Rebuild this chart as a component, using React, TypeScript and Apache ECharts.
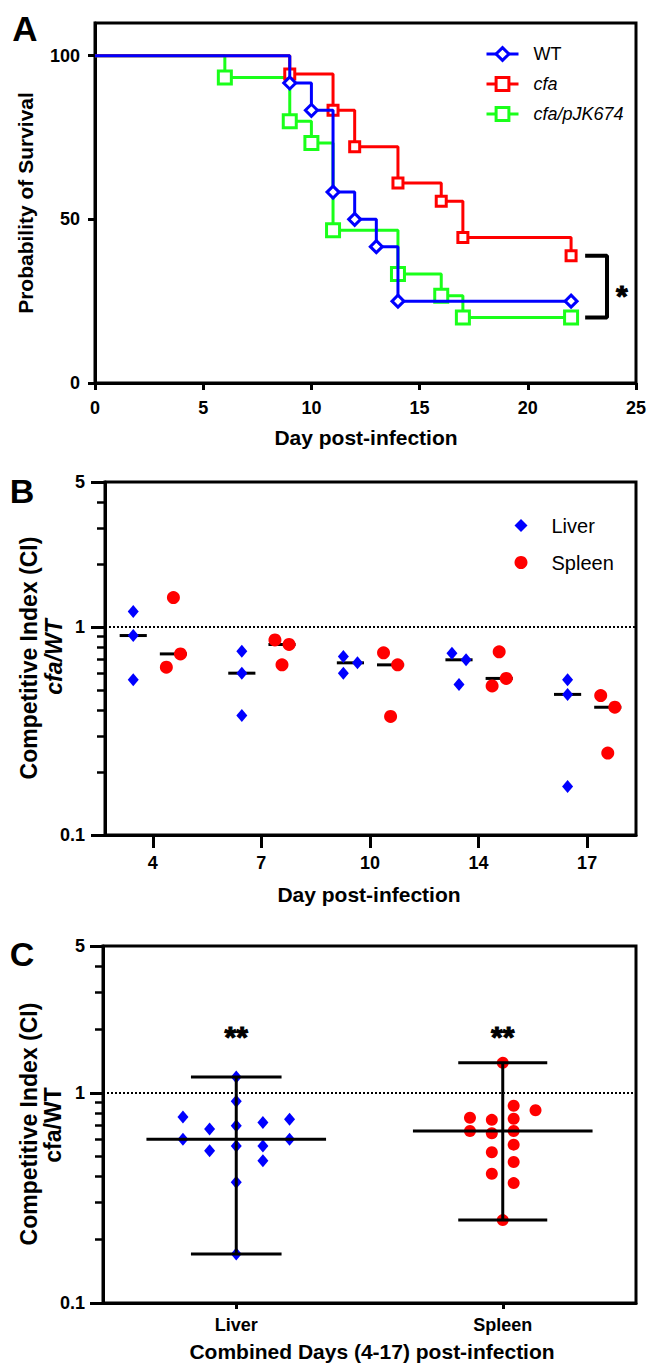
import React, { useEffect, useRef } from 'react';
import * as echarts from 'echarts';

const FONT = '"Liberation Sans", Arial, Helvetica, sans-serif';

// ---------- Panel A: Kaplan-Meier survival ----------
const wtDays = [0, 9, 10, 11, 12, 13, 14, 22];
const wtSurvival = [100, 91.67, 83.33, 58.33, 50, 41.67, 25, 25];
const cfaDays = [0, 9, 11, 12, 14, 16, 17, 22];
const cfaSurvival = [100, 94.44, 83.33, 72.22, 61.11, 55.56, 44.44, 38.89];
const compDays = [0, 6, 9, 10, 11, 14, 16, 17, 22];
const compSurvival = [100, 93.33, 80, 73.33, 46.67, 33.33, 26.67, 20, 20];
const survivalYTicks = [0, 50, 100];

// ---------- Panel B: competitive index by day ----------
const ciDays = ['4', '7', '10', '14', '17'];
const liverCI = [
  [1.19, 0.912, 0.558],
  [0.767, 0.601, 0.376],
  [0.723, 0.674, 0.601],
  [0.75, 0.697, 0.53],
  [0.558, 0.475, 0.171],
];
const spleenCI = [
  [1.39, 0.744, 0.642],
  [0.869, 0.826, 0.659],
  [0.753, 0.659, 0.372],
  [0.761, 0.567, 0.522],
  [0.469, 0.412, 0.248],
];
// scatter column of each point (GraphPad spread)
const liverColB = [[0, 0, 0], [0, 0, 0], [-1, 1, -1], [-1, 1, 0], [0, 0, 0]];
const spleenColB = [[0, 1, -1], [-1, 1, 0], [-1, 1, 0], [0, 1, -1], [-1, 1, 0]];
const ciMajorTicks = [0.1, 1, 5];
const ciMinorTicks = [0.2, 0.3, 0.4, 0.5, 0.6, 0.7, 0.8, 0.9, 2, 3, 4];

// ---------- Panel C: combined days ----------
const organs = ['Liver', 'Spleen'];
const liverColC = [0, 0, 0, -2, -2, 0, 1, -1, 2, 2, 0, -1, 1, 1, 0];
const spleenColC = [0, -1, -1, 1, 3, -3, 1, 1, 1, -3, 1, -1, 1, -1, 0];

const BLUE = '#0000ff';
const RED = '#ff0000';
const GREEN = '#1aff1a';

const median = (a: number[]) => {
  const s = [...a].sort((x, y) => x - y);
  const m = Math.floor(s.length / 2);
  return s.length % 2 ? s[m] : (s[m - 1] + s[m]) / 2;
};

const kmData = (days: number[], vals: number[]) =>
  days.map((d, i) => (i === 0 ? { value: [d, vals[i]], symbol: 'none' } : [d, vals[i]]));

const segSeries = (xi: number, yi: number, segs: number[][], z = 3) => ({
  type: 'custom',
  xAxisIndex: xi,
  yAxisIndex: yi,
  silent: true,
  z,
  data: segs,
  renderItem: (_p: any, api: any) => {
    const a = api.coord([api.value(0), api.value(1)]);
    const b = api.coord([api.value(2), api.value(3)]);
    return {
      type: 'line',
      shape: { x1: a[0], y1: a[1], x2: b[0], y2: b[1] },
      style: { stroke: '#000', lineWidth: 3 },
    };
  },
});

const axisLineStyle = { show: true, lineStyle: { color: '#000', width: 3 } };
const tickLabel = (margin: number, extra: any = {}) => ({
  color: '#000',
  fontSize: 18,
  fontWeight: 'bold',
  fontFamily: FONT,
  margin,
  ...extra,
});

const starLabel = (text: string) => ({
  show: true,
  position: 'inside',
  formatter: text,
  color: '#000',
  fontSize: 30,
  fontWeight: 'bold',
  fontFamily: FONT,
  offset: [0, 7],
  textBorderColor: '#000',
  textBorderWidth: 1,
  opacity: 1,
});

function buildOption() {
  const LIVER_OFF = -0.18;
  const SPLEEN_OFF = 0.19;
  const JIT = 0.065;
  const liverB = liverCI.flatMap((vals, d) => vals.map((v, k) => [d + LIVER_OFF + liverColB[d][k] * JIT, v]));
  const spleenB = spleenCI.flatMap((vals, d) => vals.map((v, k) => [d + SPLEEN_OFF + spleenColB[d][k] * JIT, v]));
  const medSegsB: number[][] = [];
  liverCI.forEach((vals, d) => {
    const m = median(vals);
    medSegsB.push([d + LIVER_OFF - 0.125, m, d + LIVER_OFF + 0.125, m]);
  });
  spleenCI.forEach((vals, d) => {
    const m = median(vals);
    medSegsB.push([d + SPLEEN_OFF - 0.125, m, d + SPLEEN_OFF + 0.125, m]);
  });

  const liverAll = liverCI.flat();
  const spleenAll = spleenCI.flat();
  const liverC = liverAll.map((v, i) => [0 + liverColC[i] * 0.1, v]);
  const spleenC = spleenAll.map((v, i) => [1 + spleenColC[i] * 0.041, v]);
  const rangeSegs = (c: number, vals: number[], capHalf: number) => {
    const m = median(vals);
    const lo = Math.min(...vals);
    const hi = Math.max(...vals);
    return [
      [c, lo, c, hi],
      [c - 0.337, m, c + 0.337, m],
      [c - capHalf, hi, c + capHalf, hi],
      [c - capHalf, lo, c + capHalf, lo],
    ];
  };
  const segsC = [...rangeSegs(0, liverAll, 0.17), ...rangeSegs(1, spleenAll, 0.167)];

  const refLine = {
    silent: true,
    symbol: ['none', 'none'],
    label: { show: false },
    lineStyle: { type: 'dotted', color: '#000', width: 2, opacity: 1 },
    emphasis: { disabled: true },
    data: [{ yAxis: 1 }],
  };

  const gridBase = { show: true, borderColor: '#000', borderWidth: 3, backgroundColor: 'transparent', containLabel: false, outerBoundsMode: 'none' };

  const logAxis = (gridIndex: number, tickLen: number, margin: number) => ({
    type: 'log',
    logBase: 10,
    gridIndex,
    min: 0.1,
    max: 5,
    position: 'left',
    axisLine: { ...axisLineStyle, onZero: false },
    axisTick: { show: true, length: tickLen, lineStyle: { color: '#000', width: 3 }, customValues: ciMajorTicks },
    axisLabel: tickLabel(margin, { customValues: ciMajorTicks, formatter: (v: number) => String(v) }),
    splitLine: { show: false },
    minorTick: { show: false },
  });
  const minorLogAxis = (gridIndex: number) => ({
    type: 'log',
    logBase: 10,
    gridIndex,
    min: 0.1,
    max: 5,
    position: 'left',
    offset: 0,
    axisLine: { show: false, onZero: false },
    axisTick: { show: true, length: 8, lineStyle: { color: '#000', width: 2.5 }, customValues: ciMinorTicks },
    axisLabel: { show: false },
    splitLine: { show: false },
  });

  const textG = (text: string, x: number, y: number, size: number, extra: any = {}) => ({
    type: 'text',
    x,
    y,
    silent: true,
    ...('rotation' in extra ? { rotation: extra.rotation } : {}),
    style: {
      text,
      fill: '#000',
      fontFamily: FONT,
      fontSize: size,
      fontWeight: 'bold',
      fontStyle: extra.fontStyle || 'normal',
      align: 'center',
      verticalAlign: 'middle',
    },
  });
  const R = Math.PI / 2;

  return {
    animation: false,
    backgroundColor: '#fff',
    grid: [
      { ...gridBase, left: 95, top: 23, width: 541, height: 360 },
      { ...gridBase, left: 105, top: 482, width: 531, height: 353 },
      { ...gridBase, left: 103, top: 946, width: 533, height: 357 },
    ],
    xAxis: [
      {
        type: 'value', gridIndex: 0, min: 0, max: 25, interval: 5,
        axisLine: { ...axisLineStyle, onZero: false },
        axisTick: { show: true, length: 7, lineStyle: { color: '#000', width: 3 } },
        axisLabel: tickLabel(16),
        splitLine: { show: false },
      },
      {
        type: 'value', gridIndex: 1, min: -0.44, max: 4.45,
        axisLine: { ...axisLineStyle, onZero: false },
        axisTick: { show: true, length: 13, lineStyle: { color: '#000', width: 3 }, customValues: [0, 1, 2, 3, 4] },
        axisLabel: tickLabel(19, { customValues: [0, 1, 2, 3, 4], formatter: (v: number) => ciDays[Math.round(v)] }),
        splitLine: { show: false },
      },
      {
        type: 'value', gridIndex: 2, min: -0.5, max: 1.5,
        axisLine: { ...axisLineStyle, onZero: false },
        axisTick: { show: true, length: 6, lineStyle: { color: '#000', width: 3 }, customValues: [0, 1] },
        axisLabel: tickLabel(13, { customValues: [0, 1], formatter: (v: number) => organs[Math.round(v)] }),
        splitLine: { show: false },
      },
    ],
    yAxis: [
      {
        type: 'value', gridIndex: 0, min: 0, max: 110,
        axisLine: { ...axisLineStyle, onZero: false },
        axisTick: { show: true, length: 7, lineStyle: { color: '#000', width: 3 }, customValues: survivalYTicks },
        axisLabel: tickLabel(15, { customValues: survivalYTicks }),
        splitLine: { show: false },
      },
      logAxis(1, 14, 20),
      logAxis(2, 13, 18),
      minorLogAxis(1),
      minorLogAxis(2),
    ],
    legend: [
      {
        orient: 'vertical', left: 480, top: 40, itemWidth: 32, itemHeight: 16, itemGap: 12,
        selectedMode: false,
        lineStyle: { width: 3 },
        itemStyle: { borderWidth: 3 },
        data: [
          { name: 'WT' },
          { name: 'cfa', textStyle: { fontStyle: 'italic' } },
          { name: 'cfa/pJK674', textStyle: { fontStyle: 'italic' } },
        ],
        textStyle: { fontSize: 18, fontFamily: FONT, color: '#000', padding: [0, 0, 0, 10] },
      },
      {
        orient: 'vertical', left: 509.5, top: 510.5, itemWidth: 13, itemHeight: 13, itemGap: 17,
        selectedMode: false,
        itemStyle: { opacity: 1 },
        data: ['Liver', 'Spleen'],
        textStyle: { fontSize: 20, fontFamily: FONT, color: '#000', padding: [0, 0, 0, 19] },
      },
    ],
    series: [
      {
        name: 'cfa/pJK674', type: 'line', step: 'end', xAxisIndex: 0, yAxisIndex: 0,
        data: kmData(compDays, compSurvival), symbol: 'rect', symbolSize: 13,
        lineStyle: { color: GREEN, width: 3 },
        itemStyle: { color: '#fff', borderColor: GREEN, borderWidth: 3 },
        color: GREEN, z: 2,
      },
      {
        name: 'cfa', type: 'line', step: 'end', xAxisIndex: 0, yAxisIndex: 0,
        data: kmData(cfaDays, cfaSurvival), symbol: 'rect', symbolSize: 10,
        lineStyle: { color: RED, width: 3 },
        itemStyle: { color: '#fff', borderColor: RED, borderWidth: 3 },
        color: RED, z: 3,
      },
      {
        name: 'WT', type: 'line', step: 'end', xAxisIndex: 0, yAxisIndex: 0,
        data: kmData(wtDays, wtSurvival), symbol: 'diamond', symbolSize: 12,
        lineStyle: { color: BLUE, width: 3 },
        itemStyle: { color: '#fff', borderColor: BLUE, borderWidth: 3 },
        color: BLUE, z: 4,
      },
      {
        name: 'bracket', type: 'line', xAxisIndex: 0, yAxisIndex: 0, symbol: 'none', silent: true,
        data: [
          [22.65, cfaSurvival[cfaSurvival.length - 1]],
          [23.66, cfaSurvival[cfaSurvival.length - 1]],
          [23.66, compSurvival[compSurvival.length - 1]],
          [22.65, compSurvival[compSurvival.length - 1]],
        ],
        lineStyle: { color: '#000', width: 4 },
      },
      {
        name: 'starA', type: 'scatter', xAxisIndex: 0, yAxisIndex: 0, symbolSize: 0, silent: true,
        itemStyle: { opacity: 1 },
        data: [[24.35, 29]],
        label: starLabel('*'),
      },
      // Panel B
      segSeries(1, 1, medSegsB, 2),
      {
        name: 'Liver', type: 'scatter', xAxisIndex: 1, yAxisIndex: 1, symbol: 'diamond', symbolSize: [11, 13],
        itemStyle: { color: BLUE, opacity: 1 }, color: BLUE, data: liverB, z: 4, markLine: refLine,
      },
      {
        name: 'Spleen', type: 'scatter', xAxisIndex: 1, yAxisIndex: 1, symbol: 'circle', symbolSize: 13,
        itemStyle: { color: RED, opacity: 1 }, color: RED, data: spleenB, z: 4,
      },
      // Panel C
      {
        name: 'C-Liver', type: 'scatter', xAxisIndex: 2, yAxisIndex: 2, symbol: 'diamond', symbolSize: [11, 13],
        itemStyle: { color: BLUE, opacity: 1 }, data: liverC, z: 2, markLine: refLine,
      },
      {
        name: 'C-Spleen', type: 'scatter', xAxisIndex: 2, yAxisIndex: 2, symbol: 'circle', symbolSize: 12,
        itemStyle: { color: RED, opacity: 1 }, data: spleenC, z: 2,
      },
      segSeries(2, 2, segsC, 4),
      {
        name: 'starsC', type: 'scatter', xAxisIndex: 2, yAxisIndex: 2, symbolSize: 0, silent: true,
        itemStyle: { opacity: 1 },
        data: [[0, 2.0], [1, 2.0]],
        label: starLabel('**'),
      },
    ],
    graphic: [
      textG('A', 25, 28.5, 35),
      textG('B', 22, 491, 34),
      textG('C', 22, 954, 34),
      textG('Probability of Survival', 25, 203, 21, { rotation: R }),
      textG('Day post-infection', 366, 437, 21),
      textG('Competitive Index (CI)', 29, 658, 23, { rotation: R }),
      textG('cfa/WT', 54, 657, 23, { rotation: R, fontStyle: 'italic' }),
      textG('Day post-infection', 369, 894, 21),
      textG('Competitive Index (CI)', 29, 1124, 23, { rotation: R }),
      textG('cfa/WT', 53, 1125, 23, { rotation: R }),
      textG('Combined Days (4-17) post-infection', 372, 1351, 21),
    ],
  };
}

export default function App() {
  const ref = useRef<HTMLDivElement>(null);
  useEffect(() => {
    document.body.style.margin = '0';
    if (!ref.current) return;
    const chart = echarts.init(ref.current, undefined, { renderer: 'svg' });
    chart.setOption(buildOption() as any);
    return () => chart.dispose();
  }, []);
  return <div ref={ref} style={{ width: 650, height: 1366 }} />;
}
